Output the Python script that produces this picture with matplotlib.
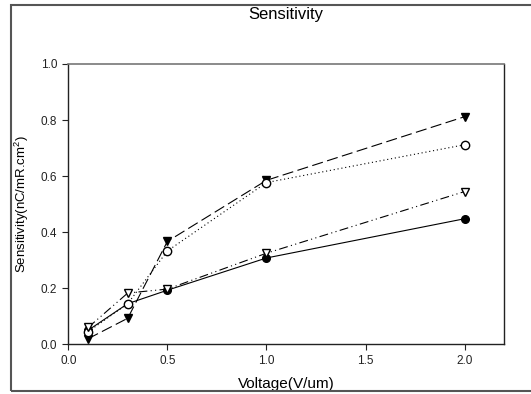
import matplotlib
matplotlib.use("Agg")
import matplotlib.pyplot as plt
from matplotlib.patches import Rectangle

plt.rcParams["font.family"] = ["Liberation Sans", "DejaVu Sans"]
plt.rcParams["mathtext.fontset"] = "custom"
plt.rcParams["mathtext.rm"] = "Liberation Sans"

voltage = [0.1, 0.3, 0.5, 1.0, 2.0]
filled_circle = [0.05, 0.145, 0.193, 0.308, 0.448]
open_circle = [0.045, 0.145, 0.333, 0.577, 0.712]
filled_tri = [0.02, 0.093, 0.367, 0.585, 0.812]
open_tri = [0.06, 0.183, 0.197, 0.325, 0.545]

x_ticks = [0.0, 0.5, 1.0, 1.5, 2.0]
y_ticks = [0.0, 0.2, 0.4, 0.6, 0.8, 1.0]

fig = plt.figure(figsize=(5.31, 3.94), dpi=100)
ax = fig.add_axes([0.1286, 0.1261, 0.8211, 0.7115])

lw = 0.8
ms = 5.5
ax.plot(voltage, filled_circle, color="black", lw=lw, linestyle="-",
        marker="o", markersize=ms, markerfacecolor="black", zorder=3)
ax.plot(voltage, open_circle, color="black", lw=lw, linestyle=(0, (1, 2.5)),
        marker="o", markersize=ms + 0.5, markerfacecolor="white", zorder=4)
ax.plot(voltage, filled_tri, color="black", lw=lw, linestyle=(0, (10, 4)),
        marker="v", markersize=ms + 0.5, markerfacecolor="black", zorder=3)
ax.plot(voltage, open_tri, color="black", lw=lw, linestyle=(0, (8, 3, 1, 3, 1, 3)),
        marker="v", markersize=ms + 0.5, markerfacecolor="white", zorder=4)

ax.set_xlim(0, 2.2)
ax.set_ylim(0, 1.0)
ax.set_xticks(x_ticks)
ax.set_yticks(y_ticks)
ax.set_xticklabels([f"{v:.1f}" for v in x_ticks])
ax.set_yticklabels([f"{v:.1f}" for v in y_ticks])
ax.tick_params(direction="out", length=4, width=0.8, labelsize=8.5, pad=4,
               colors="#222222", top=False, right=False)

for side in ["left", "bottom", "right"]:
    ax.spines[side].set_color("#222222")
    ax.spines[side].set_linewidth(1.0)
ax.spines["top"].set_color("#777777")
ax.spines["top"].set_linewidth(1.2)

ax.set_xlabel("Voltage(V/um)", fontsize=11, labelpad=7)
ax.set_ylabel(r"Sensitivity(nC/mR.cm$^2$)", fontsize=9.5, labelpad=7)
fig.text(0.539, 0.962, "Sensitivity", ha="center", va="center", fontsize=12)

fig.patches.append(Rectangle((11 / 531, 3 / 394), 1.2, 1 - 8 / 394,
                             transform=fig.transFigure, fill=False,
                             edgecolor="#555555", linewidth=1.5))

fig.savefig("out.png", dpi=100)
